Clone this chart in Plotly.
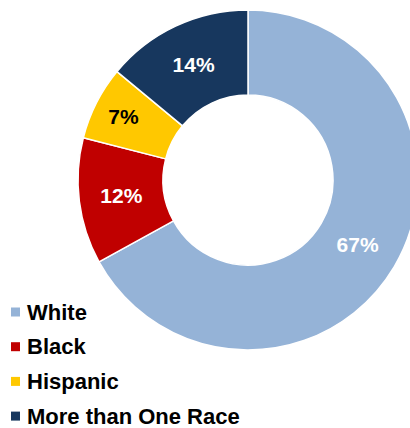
import plotly.graph_objects as go

# Race / ethnicity breakdown (percent)
categories = ['White', 'Black', 'Hispanic', 'More than One Race']
percents = [67, 12, 7, 14]
colors = ['#95B3D7', '#C00000', '#FFC800', '#17375E']
text_colors = ['white', 'white', 'black', 'white']

W, H = 420, 428
FONT = 'Liberation Sans, Arial, sans-serif'

fig = go.Figure()

fig.add_trace(go.Pie(
    labels=categories,
    values=percents,
    sort=False,
    direction='clockwise',
    rotation=0,
    hole=0.5,
    marker=dict(colors=colors, line=dict(color='white', width=1.5)),
    texttemplate='<b>%{value}%</b>',
    textposition='inside',
    insidetextorientation='horizontal',
    textfont=dict(family=FONT, size=21, color=text_colors),
    domain=dict(x=[78 / W, 418 / W], y=[1 - 350 / H, 1 - 10 / H]),
    showlegend=False,
))

# legend drawn as squares + text, one row per category
shapes = []
annotations = []
for i, (cat, col) in enumerate(zip(categories, colors)):
    yc = 312 + i * 34.7
    shapes.append(dict(
        type='rect', xref='paper', yref='paper',
        x0=11 / W, x1=20 / W, y0=1 - (yc + 4.5) / H, y1=1 - (yc - 4.5) / H,
        fillcolor=col, line=dict(width=0),
    ))
    annotations.append(dict(
        text='<b>%s</b>' % cat, xref='paper', yref='paper',
        x=25 / W, y=1 - yc / H, xanchor='left', yanchor='middle',
        showarrow=False, font=dict(family=FONT, size=22, color='black'),
    ))

fig.update_layout(
    width=W,
    height=H,
    margin=dict(l=0, r=0, t=0, b=0),
    paper_bgcolor='white',
    plot_bgcolor='white',
    shapes=shapes,
    annotations=annotations,
)

fig.write_html(
    'out.html',
    config={'displayModeBar': False},
    post_script="document.body.style.margin='0';document.documentElement.style.overflow='hidden';document.body.style.overflow='hidden';",
)
